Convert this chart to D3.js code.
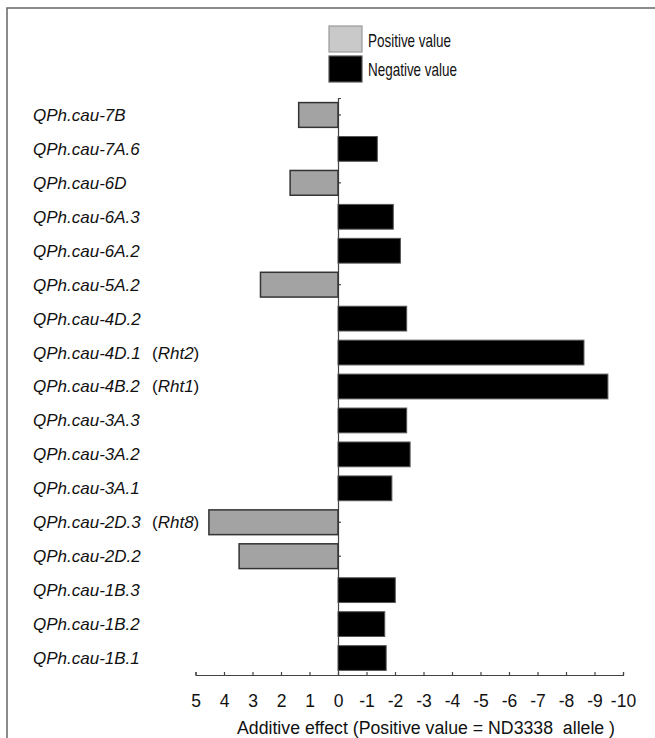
<!DOCTYPE html>
<html>
<head>
<meta charset="utf-8">
<script src="https://cdn.jsdelivr.net/npm/d3@7/dist/d3.min.js"></script>
<style>
  html, body { margin: 0; padding: 0; background: #fff; }
  svg { display: block; font-family: "Liberation Sans", Arial, sans-serif; }
</style>
</head>
<body>
<svg id="chart" width="655" height="738"></svg>
<script>
// QTL names, top to bottom
const qtlNames = [
  "QPh.cau-7B", "QPh.cau-7A.6", "QPh.cau-6D", "QPh.cau-6A.3", "QPh.cau-6A.2",
  "QPh.cau-5A.2", "QPh.cau-4D.2", "QPh.cau-4D.1", "QPh.cau-4B.2", "QPh.cau-3A.3",
  "QPh.cau-3A.2", "QPh.cau-3A.1", "QPh.cau-2D.3", "QPh.cau-2D.2", "QPh.cau-1B.3",
  "QPh.cau-1B.2", "QPh.cau-1B.1"
];
// Additive effect of each QTL (positive = ND3338 allele)
const additiveEffects = [
  1.38, -1.38, 1.68, -1.94, -2.19,
  2.72, -2.41, -8.63, -9.47, -2.41,
  -2.53, -1.89, 4.53, 3.47, -2.01,
  -1.64, -1.69
];
// Known dwarfing genes co-located with some QTL
const rhtGenes = ["", "", "", "", "", "", "", "Rht2", "Rht1", "", "", "", "Rht8", "", "", "", ""];
// x-axis ticks
const xTicks = [5, 4, 3, 2, 1, 0, -1, -2, -3, -4, -5, -6, -7, -8, -9, -10];
const legendLabels = ["Positive value", "Negative value"];

const svg = d3.select("#chart");
const posFill = "#a3a3a3", legendPosFill = "#c9c9c9", negFill = "#000";

// outer frame (left and top edges)
svg.append("path")
  .attr("d", "M7,738V8H655")
  .attr("fill", "none").attr("stroke", "#666").attr("stroke-width", 1.5);

const x = d3.scaleLinear().domain([5, -10]).range([195.5, 623]);
const y = d3.scaleBand().domain(qtlNames).range([98, 675]).paddingInner(0.27).paddingOuter(0.135);

// vertical zero axis with small ticks at each QTL
const yAxis = svg.append("g")
  .attr("transform", `translate(${x(0)},0)`)
  .call(d3.axisRight(y).tickSize(3).tickSizeOuter(3).tickFormat(""));
yAxis.select(".domain").attr("stroke", "#444").attr("stroke-width", 1.2);
yAxis.selectAll(".tick line").attr("stroke", "#444").attr("stroke-width", 1.2);

// bars
const data = qtlNames.map((n, i) => ({ name: n, v: additiveEffects[i], gene: rhtGenes[i] }));
svg.append("g").selectAll("rect").data(data).join("rect")
  .attr("x", d => Math.min(x(0), x(d.v)))
  .attr("width", d => Math.abs(x(d.v) - x(0)))
  .attr("y", d => y(d.name))
  .attr("height", y.bandwidth())
  .attr("fill", d => d.v > 0 ? posFill : negFill)
  .attr("stroke", d => d.v > 0 ? "#333" : "#555")
  .attr("stroke-width", d => d.v > 0 ? 1.5 : 1);

// x axis (plain hyphen for negative labels)
const xAxis = svg.append("g")
  .attr("transform", "translate(0,675)")
  .call(d3.axisBottom(x).tickValues(xTicks).tickSize(-3).tickSizeOuter(-3).tickFormat(d => String(d)));
xAxis.select(".domain").attr("stroke", "#444").attr("stroke-width", 1.2);
xAxis.selectAll(".tick line").attr("stroke", "#444").attr("stroke-width", 1.2);
xAxis.selectAll(".tick text")
  .attr("y", 31.5).attr("dy", null)
  .attr("font-family", "Liberation Sans, Arial, sans-serif")
  .attr("font-size", 17.5).attr("fill", "#111");

// axis title
svg.append("text")
  .attr("x", 237).attr("y", 734)
  .attr("font-size", 18).attr("fill", "#111")
  .attr("textLength", 378).attr("lengthAdjust", "spacingAndGlyphs")
  .style("white-space", "pre")
  .text("Additive effect (Positive value = ND3338  allele )");

// category labels
const labels = svg.append("g");
labels.selectAll("text.name").data(data).join("text")
  .attr("class", "name")
  .attr("x", 33)
  .attr("y", d => y(d.name) + y.bandwidth() / 2)
  .attr("dy", "0.35em")
  .attr("font-size", 17).attr("font-style", "italic").attr("fill", "#111")
  .text(d => d.name);
const geneLabels = labels.selectAll("text.gene").data(data.filter(d => d.gene)).join("text")
  .attr("class", "gene")
  .attr("x", 152)
  .attr("y", d => y(d.name) + y.bandwidth() / 2)
  .attr("dy", "0.35em")
  .attr("font-size", 17).attr("fill", "#111");
geneLabels.append("tspan").text("(");
geneLabels.append("tspan").attr("font-style", "italic").text(d => d.gene);
geneLabels.append("tspan").text(")");

// legend
const legend = svg.append("g");
const legendRows = [
  { label: legendLabels[0], fill: legendPosFill, stroke: "#999", y: 26, base: 46.5, len: 83 },
  { label: legendLabels[1], fill: negFill, stroke: "#555", y: 56, base: 76, len: 89 }
];
legend.selectAll("rect").data(legendRows).join("rect")
  .attr("x", 329).attr("y", d => d.y).attr("width", 33).attr("height", 26)
  .attr("fill", d => d.fill).attr("stroke", d => d.stroke).attr("stroke-width", 1.2);
legend.selectAll("text").data(legendRows).join("text")
  .attr("x", 368).attr("y", d => d.base)
  .attr("font-size", 18.5).attr("fill", "#111")
  .attr("textLength", d => d.len).attr("lengthAdjust", "spacingAndGlyphs")
  .text(d => d.label);
</script>
</body>
</html>
